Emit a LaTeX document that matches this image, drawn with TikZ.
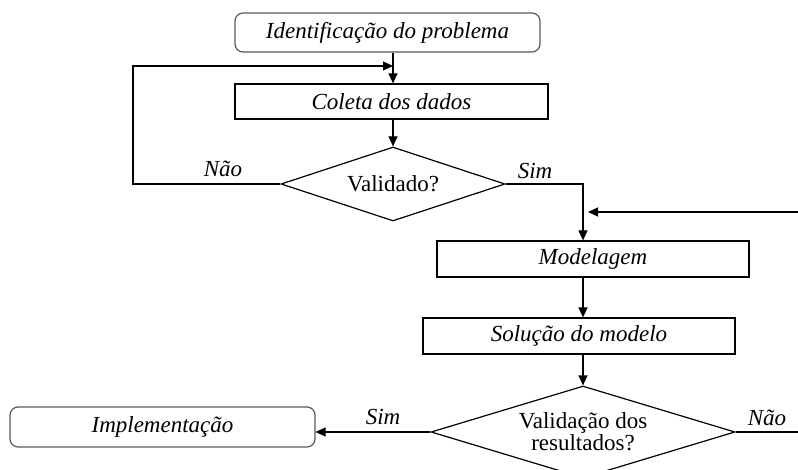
\documentclass[tikz,border=0pt]{standalone}
\usepackage{fontspec}
\setmainfont{Liberation Serif}
\usetikzlibrary{arrows.meta,shapes.geometric}

\begin{document}
\begin{tikzpicture}[x=0.5pt, y=-0.5pt, line width=0.6pt,
    font=\fontsize{11.5}{11}\selectfont,
    endbox/.style={rectangle, rounded corners=4pt, draw=black!65, inner sep=0pt, font=\fontsize{11.5}{11}\selectfont\itshape},
    taskbox/.style={rectangle, draw=black, inner sep=0pt, font=\fontsize{11.5}{11}\selectfont\itshape},
    testbox/.style={diamond, draw=black, inner sep=0pt, align=center},
    answer/.style={font=\fontsize{11.5}{11}\selectfont\itshape},
    flow/.style={-{Triangle[length=5pt,width=4.5pt]}}]
  \useasboundingbox (0,0) rectangle (798,470);

  \node[endbox, minimum width=152.5pt, minimum height=19.5pt] (ident) at (387.5,32.5) {Identificação do problema};
  \node[taskbox, minimum width=156.5pt, minimum height=17.5pt] (coleta) at (391.5,101.5) {Coleta dos dados};
  \node[testbox, aspect=3, minimum width=112pt, minimum height=37pt] (valid1) at (393,184) {Validado?};
  \node[taskbox, minimum width=156pt, minimum height=18pt] (model) at (593,259) {Modelagem};
  \node[taskbox, minimum width=156pt, minimum height=18pt] (solucao) at (579,336) {Solução do modelo};
  \node[testbox, aspect=3.4, minimum width=152pt, minimum height=46pt] (valid2) at (583,432) {Validação dos\\resultados?};
  \node[endbox, minimum width=152.5pt, minimum height=20pt] (impl) at (162.5,427) {Implementação};

  \node[answer] (nao1) at (223,169) {Não};
  \node[answer] (sim1) at (535,171) {Sim};
  \node[answer] (sim2) at (383,417) {Sim};
  \node[answer] (nao2) at (767,418) {Não};

  \coordinate (loopA) at (133,184);
  \coordinate (loopB) at (133,66);
  \coordinate (simA) at (583,184);
  \coordinate (retA) at (798,212);
  \coordinate (retB) at (588,212);
  \coordinate (saida) at (798,432);

  \draw[flow] (ident.south -| valid1) -- (coleta.north -| valid1);
  \draw[flow] (valid1.west) -- (loopA) -- (loopB) -- (loopB -| valid1);
  \draw[flow] (coleta.south -| valid1) -- (valid1.north);
  \draw[flow] (valid1.east) -- (simA) -- (model.north -| simA);
  \draw[flow] (retA) -- (retB);
  \draw[flow] (model.south -| valid2) -- (solucao.north -| valid2);
  \draw[flow] (solucao.south -| valid2) -- (valid2.north);
  \draw[flow] (valid2.west) -- (valid2.west -| impl.east);
  \draw (valid2.east) -- (saida);
\end{tikzpicture}
\end{document}
